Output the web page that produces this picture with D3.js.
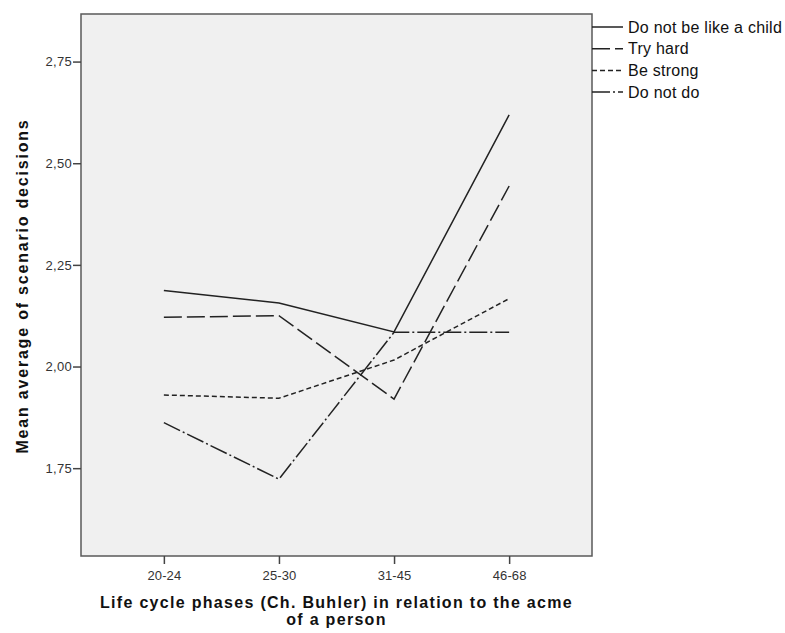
<!DOCTYPE html>
<html>
<head>
<meta charset="utf-8">
<script src="https://cdn.jsdelivr.net/npm/d3@7"></script>
<style>
  body { margin: 0; background: #fff; }
  text { font-family: Arial, "Liberation Sans", sans-serif; }
</style>
</head>
<body>
<div id="viz"></div>
<script>
const phases = ['20-24', '25-30', '31-45', '46-68']
const seriesNames = ['Do not be like a child', 'Try hard', 'Be strong', 'Do not do']
const childValues = [2.187, 2.156, 2.085, 2.619]
const tryHardValues = [2.121, 2.125, 1.920, 2.444]
const strongValues = [1.930, 1.922, 2.016, 2.167]
const doNotDoValues = [1.862, 1.723, 2.084, 2.084]
const yTicks = [1.75, 2.00, 2.25, 2.50, 2.75]

const dashes = ['none', '18,5', '5,3', '18,3,2,3']
const series = [childValues, tryHardValues, strongValues, doNotDoValues]
  .map((values, i) => ({name: seriesNames[i], values, dash: dashes[i]}))

let dimensions = {
  width: 785,
  height: 633,
  margin: {top: 14, right: 193, bottom: 77, left: 81},
}
dimensions.boundedWidth = dimensions.width - dimensions.margin.left - dimensions.margin.right
dimensions.boundedHeight = dimensions.height - dimensions.margin.top - dimensions.margin.bottom

const wrapper = d3.select('#viz')
  .append('svg')
  .attr('width', dimensions.width)
  .attr('height', dimensions.height)

const chart = wrapper.append('g')
  .attr('transform', `translate(${dimensions.margin.left},${dimensions.margin.top})`)

const xScale = d3.scalePoint()
  .domain(phases)
  .range([0, dimensions.boundedWidth])
  .padding(0.72)

const yScale = d3.scaleLinear()
  .domain([1.534, 2.867])
  .range([dimensions.boundedHeight, 0])

// plot background
chart.append('rect')
  .attr('width', dimensions.boundedWidth)
  .attr('height', dimensions.boundedHeight)
  .attr('fill', '#f0f0f0')
  .attr('stroke', '#5a5a5a')
  .attr('stroke-width', 1.5)

// axes
const fmt = d => d3.format('.2f')(d).replace('.', ',')

const yAxis = chart.append('g')
  .call(d3.axisLeft(yScale).tickValues(yTicks).tickFormat(fmt).tickSize(8).tickPadding(1))
yAxis.select('.domain').remove()
yAxis.selectAll('line').attr('stroke', '#444').attr('stroke-width', 1.5)
yAxis.selectAll('text').attr('font-size', 13).attr('letter-spacing', 0.3).attr('fill', '#333')

const xAxis = chart.append('g')
  .attr('transform', `translate(0,${dimensions.boundedHeight})`)
  .call(d3.axisBottom(xScale).tickSize(8).tickPadding(7))
xAxis.select('.domain').remove()
xAxis.selectAll('line').attr('stroke', '#444').attr('stroke-width', 1.5)
xAxis.selectAll('text').attr('font-size', 13).attr('letter-spacing', 0.1).attr('fill', '#333')

// axis titles
const xTitle = wrapper.append('text')
  .attr('x', dimensions.margin.left + dimensions.boundedWidth / 2)
  .attr('y', 608)
  .attr('text-anchor', 'middle')
  .attr('font-size', 16)
  .attr('font-weight', 'bold')
  .attr('letter-spacing', 1.3)
  .attr('fill', '#111')
xTitle.append('tspan').text('Life cycle phases (Ch. Buhler) in relation to the acme')
xTitle.append('tspan')
  .attr('x', dimensions.margin.left + dimensions.boundedWidth / 2)
  .attr('dy', 17)
  .text('of a person')

wrapper.append('text')
  .attr('transform', `translate(28,286) rotate(-90)`)
  .attr('text-anchor', 'middle')
  .attr('font-size', 16)
  .attr('font-weight', 'bold')
  .attr('letter-spacing', 1.8)
  .attr('fill', '#111')
  .text('Mean average of scenario decisions')

// lines
const lineGenerator = d3.line()
  .x((d, i) => xScale(phases[i]))
  .y(d => yScale(d))

chart.selectAll('.series')
  .data(series)
  .join('path')
  .attr('class', 'series')
  .attr('d', d => lineGenerator(d.values))
  .attr('fill', 'none')
  .attr('stroke', '#222')
  .attr('stroke-width', 1.5)
  .attr('stroke-dasharray', d => d.dash)

// legend
const legend = wrapper.append('g')
  .attr('transform', `translate(${dimensions.margin.left + dimensions.boundedWidth},27)`)

const legendRows = legend.selectAll('g')
  .data(series)
  .join('g')
  .attr('transform', (d, i) => `translate(0,${i * 21.7})`)

legendRows.append('line')
  .attr('x1', 0)
  .attr('x2', 31)
  .attr('stroke', '#222')
  .attr('stroke-width', 1.5)
  .attr('stroke-dasharray', d => d.dash)

legendRows.append('text')
  .attr('x', 36)
  .attr('dy', '0.35em')
  .attr('font-size', 16)
  .attr('letter-spacing', 0.25)
  .attr('fill', '#111')
  .text(d => d.name)
</script>
</body>
</html>
